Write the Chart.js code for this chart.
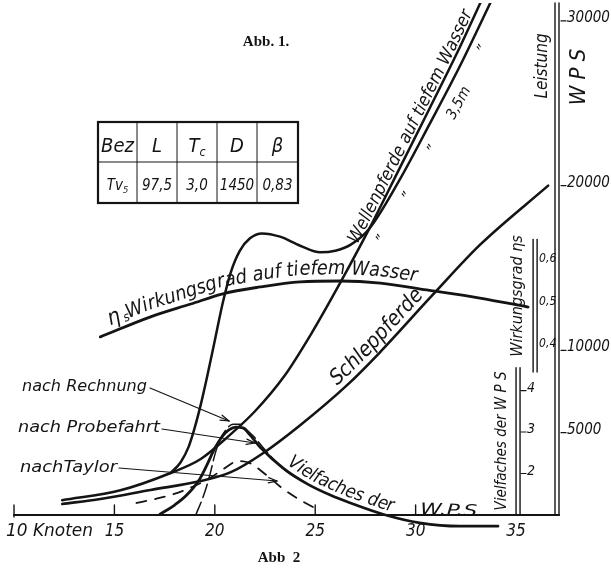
<!DOCTYPE html>
<html><head><meta charset="utf-8">
<script src="https://cdn.jsdelivr.net/npm/chart.js@4.4.0/dist/chart.umd.min.js"></script>
<style>html,body{margin:0;padding:0;background:#fff;}#wrap{width:611px;height:571px;}</style>
</head><body><div id="wrap"><canvas id="c" width="611" height="571"></canvas></div>
<script>
// ---------- data ----------
const knotTicks = [10, 15, 20, 25, 30, 35];
const knotTickLabels = ['10 Knoten', '15', '20', '25', '30', '35'];
const wpsTicks = [5000, 10000, 20000, 30000];
const wpsTickLabels = ['5000', '10000', '20000', '30000'];
const etaTicks = [0.4, 0.5, 0.6];
const etaTickLabels = ['0,4', '0,5', '0,6'];
const multTicks = [2, 3, 4];
const multTickLabels = ['2', '3', '4'];

// Wellenpferde auf tiefem Wasser
const deepKnots = [12.4, 15.3, 17.8, 19.3, 20.6, 22.0, 23.5, 24.8, 26.2, 27.7, 29.2, 30.7, 32.2, 33.3];
const deepWPS   = [900, 1500, 2550, 3400, 4700, 6300, 8500, 11000, 14000, 17400, 21050, 24700, 28400, 31300];
// Wellenpferde auf 3,5 m Wasser
const shallowKnots = [17.8, 18.3, 18.7, 19.0, 19.3, 19.6, 20.0, 20.4, 20.8, 21.25, 21.75, 22.35, 23.25, 24.25, 25.25, 26.0, 26.75, 27.7, 29.2, 30.7, 32.2, 33.8];
const shallowWPS   = [2550, 3200, 4150, 5300, 6700, 8300, 10600, 12900, 14750, 16050, 16800, 17100, 16900, 16350, 15950, 16050, 16400, 17400, 20350, 23750, 27250, 31300];
// Schleppferde
const towKnots = [12.4, 14.3, 16.8, 19.3, 20.8, 22.4, 24.25, 26.6, 28.2, 30.8, 33.2, 36.6];
const towPS    = [670, 970, 1520, 2060, 2600, 3750, 5450, 7900, 9850, 13300, 16400, 20000];
// ηs Wirkungsgrad auf tiefem Wasser
const etaKnots  = [14.3, 16.8, 18.8, 20.4, 22.25, 24.25, 26.25, 28.25, 30.55, 33.2, 35.6];
const etaValues = [0.417, 0.464, 0.494, 0.518, 0.534, 0.546, 0.548, 0.543, 0.527, 0.508, 0.487];
// Vielfaches der WPS – nach Probefahrt
const trialKnots = [17.27, 18.0, 18.6, 19.25, 19.65, 20.0, 20.35, 20.7, 21.05, 21.4, 21.75, 22.25, 23.4, 24.6, 25.75, 26.75, 28.5, 30.2, 32.2, 34.1];
const trialMult  = [1.02, 1.24, 1.48, 1.87, 2.25, 2.61, 2.88, 3.05, 3.12, 3.10, 2.93, 2.64, 2.13, 1.75, 1.48, 1.29, 1.0, 0.81, 0.73, 0.73];
// nach Rechnung
const calcKnots = [19.05, 19.45, 19.75, 20.0, 20.25, 20.55, 20.9, 21.25, 21.6, 22.0, 22.5, 23.5, 24.25];
const calcMult  = [1.0, 1.48, 1.96, 2.45, 2.81, 3.05, 3.19, 3.19, 3.05, 2.86, 2.57, 2.08, 1.84];
// nach Taylor
const taylorKnots = [16.1, 17.25, 18.5, 19.75, 20.5, 21.15, 21.75, 22.5, 23.4, 24.25, 25.25];
const taylorMult  = [1.29, 1.41, 1.60, 1.89, 2.13, 2.30, 2.25, 1.99, 1.63, 1.36, 1.10];

// table
const tableHeader    = ['Bez', 'L', 'T', 'D', 'β'];
const tableHeaderSub = ['', '', 'c', '', ''];
const tableRow       = ['Tv', '97,5', '3,0', '1450', '0,83'];
const tableRowSub    = ['5', '', '', '', ''];

// ---------- drawing ----------
const INK = '#141414';
const LF = "'Liberation Sans Narrow','DejaVu Sans Condensed','Liberation Sans',sans-serif";
const fnt = (px, st) => (st || 'italic') + ' ' + px + 'px ' + LF;
const pts = (xs, ys) => xs.map((x, i) => ({ x: x, y: ys[i] }));

function line(ctx, x0, y0, x1, y1) { ctx.beginPath(); ctx.moveTo(x0, y0); ctx.lineTo(x1, y1); ctx.stroke(); }
function fitText(ctx, text, x0, y0, x1, y1, px, st) {
  const len = Math.hypot(x1 - x0, y1 - y0), a = Math.atan2(y1 - y0, x1 - x0);
  ctx.save(); ctx.font = fnt(px, st); const w = ctx.measureText(text).width;
  ctx.translate(x0, y0); ctx.rotate(a); ctx.scale(len / w, 1);
  ctx.textAlign = 'left'; ctx.textBaseline = 'alphabetic'; ctx.fillText(text, 0, 0); ctx.restore();
}
function rotText(ctx, text, cx, cy, ang, px, st) {
  ctx.save(); ctx.font = fnt(px, st); ctx.translate(cx, cy); ctx.rotate(ang * Math.PI / 180);
  ctx.textAlign = 'center'; ctx.textBaseline = 'middle'; ctx.fillText(text, 0, 0); ctx.restore();
}
function pathText(ctx, p, text, startX, offset, px, targetLen) {
  ctx.save();
  ctx.font = fnt(px);
  const total = ctx.measureText(text).width;
  const size = targetLen ? px * targetLen / total : px;
  ctx.font = fnt(size);
  const cum = [0];
  for (let i = 1; i < p.length; i++) cum.push(cum[i - 1] + Math.hypot(p[i].x - p[i - 1].x, p[i].y - p[i - 1].y));
  let s0 = 0;
  for (let i = 1; i < p.length; i++) {
    if (p[i].x >= startX) { const t = (startX - p[i - 1].x) / (p[i].x - p[i - 1].x); s0 = cum[i - 1] + t * (cum[i] - cum[i - 1]); break; }
  }
  const at = s => {
    let i = 1; while (i < p.length - 1 && cum[i] < s) i++;
    const seg = cum[i] - cum[i - 1] || 1, t = (s - cum[i - 1]) / seg;
    return { x: p[i - 1].x + t * (p[i].x - p[i - 1].x), y: p[i - 1].y + t * (p[i].y - p[i - 1].y) };
  };
  let s = s0;
  ctx.textAlign = 'center'; ctx.textBaseline = 'alphabetic';
  for (const ch of text) {
    const w = ctx.measureText(ch).width;
    const p1 = at(s), p2 = at(s + w), a = Math.atan2(p2.y - p1.y, p2.x - p1.x);
    const mx = (p1.x + p2.x) / 2, my = (p1.y + p2.y) / 2;
    ctx.save(); ctx.translate(mx + Math.sin(a) * offset, my - Math.cos(a) * offset); ctx.rotate(a);
    ctx.fillText(ch, 0, 0); ctx.restore();
    s += w;
  }
  ctx.restore();
}
function arrow(ctx, x0, y0, x1, y1) {
  ctx.lineWidth = 1.2; line(ctx, x0, y0, x1, y1);
  const a = Math.atan2(y1 - y0, x1 - x0), L = 9, h = 0.3;
  line(ctx, x1, y1, x1 - L * Math.cos(a - h), y1 - L * Math.sin(a - h));
  line(ctx, x1, y1, x1 - L * Math.cos(a + h), y1 - L * Math.sin(a + h));
}
function subText(ctx, main, sub, cx, base, px) {
  ctx.save(); ctx.font = fnt(px); const w1 = ctx.measureText(main).width;
  ctx.font = fnt(px * 0.62); const w2 = sub ? ctx.measureText(sub).width : 0;
  const x = cx - (w1 + w2) / 2;
  ctx.textAlign = 'left'; ctx.textBaseline = 'alphabetic';
  ctx.font = fnt(px); ctx.fillText(main, x, base);
  if (sub) { ctx.font = fnt(px * 0.62); ctx.fillText(sub, x + w1, base + px * 0.18); }
  ctx.restore();
}
function dbl(ctx, xc, yt, yb) { ctx.lineWidth = 1.4; line(ctx, xc - 2, yt, xc - 2, yb); line(ctx, xc + 2, yt, xc + 2, yb); }

const decor = {
  id: 'decor',
  afterDraw(chart) {
    const ctx = chart.ctx, sx = chart.scales.x, sW = chart.scales.yW, sE = chart.scales.yEta, sM = chart.scales.yMult;
    const X = v => sx.getPixelForValue(v);
    ctx.save(); ctx.fillStyle = INK; ctx.strokeStyle = INK; ctx.lineCap = 'round';
    const y0 = sW.getPixelForValue(0);
    // x axis
    ctx.lineWidth = 2.2; line(ctx, X(10), y0, X(37.04) + 2, y0);
    ctx.lineWidth = 1.4;
    knotTicks.forEach((k, i) => {
      if (k < 35) line(ctx, X(k), y0 - 10, X(k), y0 + (k === 10 ? 2 : 0));
    });
    knotTickLabels.forEach((t, i) => {
      const k = knotTicks[i];
      if (i === 0) fitText(ctx, t, X(k) - 8, y0 + 21, X(k) + 79, y0 + 21, 17);
      else { ctx.font = fnt(17); ctx.textAlign = 'center'; ctx.textBaseline = 'alphabetic'; ctx.fillText(t, X(k), y0 + 21); }
    });
    // Leistung axis
    const xW = X(37.04);
    dbl(ctx, xW, chart.chartArea.top, y0);
    ctx.lineWidth = 1.2;
    wpsTicks.forEach((v, i) => {
      const y = sW.getPixelForValue(v);
      line(ctx, xW + 4, y, xW + 9, y);
      ctx.font = fnt(15); ctx.textAlign = 'left'; ctx.textBaseline = 'alphabetic';
      ctx.fillText(wpsTickLabels[i], xW + 10, y + 1);
    });
    // Wirkungsgrad axis
    const xE = X(35.95);
    dbl(ctx, xE, sE.getPixelForValue(0.645), sE.getPixelForValue(0.335));
    etaTicks.forEach((v, i) => {
      const y = sE.getPixelForValue(v);
      ctx.font = fnt(12); ctx.textAlign = 'left'; ctx.textBaseline = 'middle';
      ctx.fillText(etaTickLabels[i], xE + 4, y);
    });
    // Vielfaches axis
    const xM = X(35.1);
    dbl(ctx, xM, sM.getPixelForValue(4.55), y0);
    ctx.lineWidth = 1.2;
    multTicks.forEach((v, i) => {
      const y = sM.getPixelForValue(v);
      line(ctx, xM + 3, y, xM + 8, y);
      ctx.font = fnt(14); ctx.textAlign = 'left'; ctx.textBaseline = 'alphabetic';
      ctx.fillText(multTickLabels[i], xM + 9, y + 1);
    });
    // axis titles
    rotText(ctx, 'Leistung', 543, 66, -90, 17);
    rotText(ctx, 'W P S', 579, 77, -90, 22);
    rotText(ctx, 'Wirkungsgrad ηs', 518, 296, -90, 16);
    rotText(ctx, 'Vielfaches der W P S', 502, 441, -90, 15);

    // table
    const cols = [98, 137, 177, 217, 257, 298], rows = [122, 162, 203];
    ctx.lineWidth = 1;
    for (let i = 1; i < cols.length - 1; i++) line(ctx, cols[i], rows[0], cols[i], rows[2]);
    line(ctx, cols[0], rows[1], cols[5], rows[1]);
    ctx.lineWidth = 2.2; ctx.strokeRect(cols[0], rows[0], cols[5] - cols[0], rows[2] - rows[0]);
    tableHeader.forEach((t, i) => subText(ctx, t, tableHeaderSub[i], (cols[i] + cols[i + 1]) / 2, 152, 20));
    tableRow.forEach((t, i) => subText(ctx, t, tableRowSub[i], (cols[i] + cols[i + 1]) / 2, 190, 15));

    // curve labels
    const meta = i => chart.getDatasetMeta(i).data.map(e => ({ x: e.x, y: e.y }));
    pathText(ctx, meta(0), 'Wellenpferde auf tiefem Wasser', 360, 3, 17, 258);
    [[382, 240, '”'], [408, 197, '”'], [433, 150, '”'], [459, 103, '3,5m'], [483, 50, '”']].forEach(d => rotText(ctx, d[2], d[0], d[1], -62, 15));
    pathText(ctx, meta(2), 'Schleppferde', 341, 6, 17, 126);
    rotText(ctx, 'η', 114, 318, -20, 22);
    ctx.font = fnt(13); ctx.save(); ctx.translate(125, 322); ctx.rotate(-20 * Math.PI / 180); ctx.fillText('s', 0, 0); ctx.restore();
    pathText(ctx, meta(3), 'Wirkungsgrad auf tiefem Wasser', 131, 7, 16, 290);
    pathText(ctx, meta(4), 'Vielfaches der', 284, 5, 15, 118);
    fitText(ctx, 'W.P.S', 420, 514, 477, 516, 16);

    // left-hand labels with arrows
    fitText(ctx, 'nach Rechnung', 22, 391, 147, 391, 16);
    fitText(ctx, 'nach Probefahrt', 18, 432, 160, 432, 16);
    fitText(ctx, 'nachTaylor', 20, 472, 117, 472, 16);
    arrow(ctx, 150, 388, 229, 421);
    arrow(ctx, 162, 429, 255, 443);
    arrow(ctx, 119, 468, 277, 481);

    // captions
    ctx.font = "bold 15px 'Liberation Serif','DejaVu Serif',serif"; ctx.textAlign = 'center'; ctx.textBaseline = 'alphabetic';
    ctx.fillText('Abb. 1.', 266, 46);
    ctx.fillText('Abb  2', 279, 562);
    ctx.restore();
  }
};

const base = { pointRadius: 0, pointHoverRadius: 0, fill: false, borderColor: INK, cubicInterpolationMode: 'monotone', borderCapStyle: 'round' };
new Chart(document.getElementById('c'), {
  type: 'line',
  data: {
    datasets: [
      Object.assign({ label: 'Wellenpferde auf tiefem Wasser', data: pts(deepKnots, deepWPS), yAxisID: 'yW', borderWidth: 2.5 }, base),
      Object.assign({ label: 'Wellenpferde auf 3,5 m Wasser', data: pts(shallowKnots, shallowWPS), yAxisID: 'yW', borderWidth: 2.5 }, base),
      Object.assign({ label: 'Schleppferde', data: pts(towKnots, towPS), yAxisID: 'yW', borderWidth: 2.6 }, base),
      Object.assign({ label: 'ηs', data: pts(etaKnots, etaValues), yAxisID: 'yEta', borderWidth: 2.8 }, base),
      Object.assign({ label: 'nach Probefahrt', data: pts(trialKnots, trialMult), yAxisID: 'yMult', borderWidth: 2.8, clip: false }, base),
      Object.assign({ label: 'nach Rechnung', data: pts(calcKnots, calcMult), yAxisID: 'yMult', borderWidth: 1.5, borderDash: [14, 5] }, base),
      Object.assign({ label: 'nach Taylor', data: pts(taylorKnots, taylorMult), yAxisID: 'yMult', borderWidth: 1.8, borderDash: [10, 9] }, base)
    ]
  },
  options: {
    responsive: false, animation: false, devicePixelRatio: 1,
    layout: { padding: { left: 14, right: 54, top: 3, bottom: 26 }, autoPadding: false },
    plugins: { legend: { display: false }, tooltip: { enabled: false } },
    events: [],
    scales: {
      x: { type: 'linear', min: 10, max: 37.04, display: false },
      yW: { type: 'linear', min: -1822, max: 31089, display: false },
      yEta: { type: 'linear', min: -0.0703, max: 1.199, display: false },
      yMult: { type: 'linear', min: 0.277, max: 13.34, display: false }
    }
  },
  plugins: [decor]
});
</script></body></html>
